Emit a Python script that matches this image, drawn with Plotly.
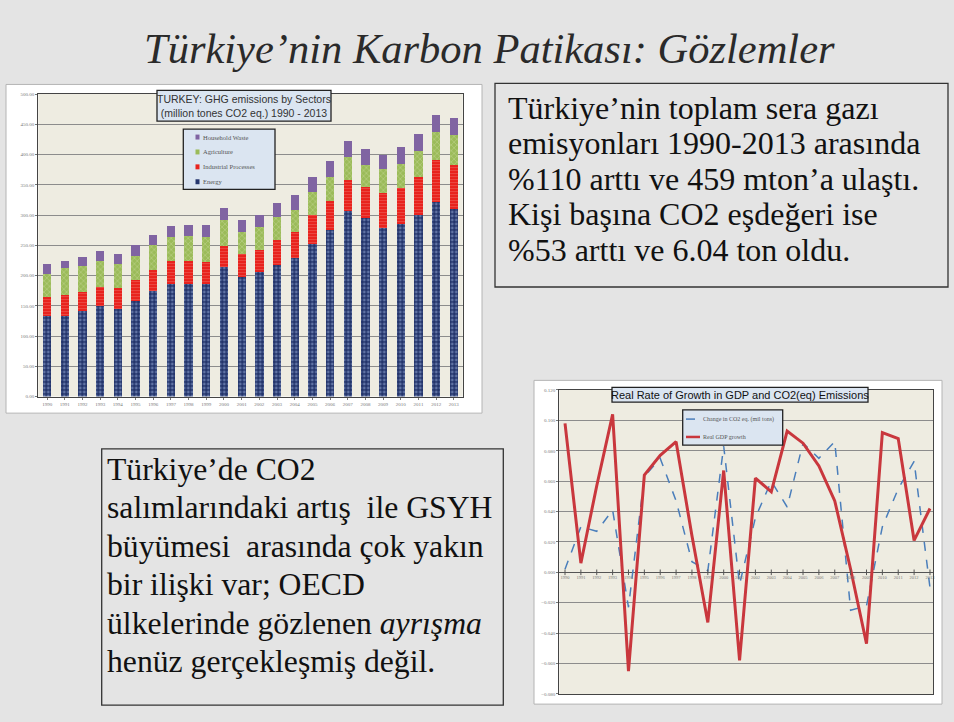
import plotly.graph_objs as go

W, H = 954, 722

# ---- data ----
years = ['1990', '1991', '1992', '1993', '1994', '1995', '1996', '1997',
         '1998', '1999', '2000', '2001', '2002', '2003', '2004', '2005',
         '2006', '2007', '2008', '2009', '2010', '2011', '2012', '2013']

# GHG emissions by sector, million tonnes CO2 eq.
energy = [132.5, 133.6, 140.7, 148.9, 144.5, 158.7, 175.1, 185.5, 185.5, 185.5,
          214.6, 198.1, 206.3, 217.3, 228.2, 252.9, 275.9, 306.5, 295.0, 279.1,
          284.6, 299.4, 321.3, 310.3]
industrial = [31.7, 34.4, 31.7, 31.7, 34.5, 34.0, 34.0, 38.9, 38.9, 37.3,
              34.4, 37.3, 36.7, 42.1, 43.8, 46.5, 48.1, 51.5, 50.9, 57.5,
              60.2, 62.9, 69.5, 72.8]
agriculture = [37.8, 43.8, 43.8, 43.8, 39.9, 39.4, 42.1, 39.4, 41.1, 41.0,
               42.2, 36.6, 37.2, 37.3, 36.7, 38.3, 38.3, 37.2, 37.2, 39.4,
               39.4, 43.8, 47.1, 49.3]
waste = [16.4, 12.1, 13.7, 16.4, 15.9, 18.0, 16.5, 18.1, 18.6, 20.3,
         20.2, 20.3, 19.2, 22.9, 25.2, 24.6, 27.4, 27.3, 26.9, 23.6,
         28.5, 27.4, 26.8, 27.4]

# growth rates
line_years = [1990, 1991, 1992, 1993, 1994, 1995, 1996, 1997, 1998, 1999, 2000, 2001,
              2002, 2003, 2004, 2005, 2006, 2007, 2008, 2009, 2010, 2011, 2012, 2013]
co2_change = [0.002, 0.030, 0.027, 0.041, -0.023, 0.063, 0.075, 0.047, 0.007, 0.001,
              0.083, -0.008, 0.036, 0.060, 0.043, 0.085, 0.075, 0.086, -0.025, -0.022,
              0.030, 0.055, 0.073, -0.010]
gdp_growth = [0.098, 0.006, 0.057, 0.104, -0.065, 0.064, 0.077, 0.086, 0.024, -0.033,
              0.067, -0.058, 0.062, 0.053, 0.093, 0.085, 0.070, 0.047, 0.002, -0.047,
              0.092, 0.088, 0.021, 0.042]

box1_lines = ['Türkiye’nin toplam sera gazı',
              'emisyonları 1990-2013 arasında',
              '%110 arttı ve 459 mton’a ulaştı.',
              'Kişi başına CO2 eşdeğeri ise',
              '%53 arttı ve 6.04 ton oldu.']
box2_lines = ['Türkiye’de CO2',
              'salımlarındaki artış  ile GSYH',
              'büyümesi  arasında çok yakın',
              'bir ilişki var; OECD',
              'ülkelerinde gözlenen <i>ayrışma</i>',
              'henüz gerçekleşmiş değil.']

sector_names = ['Household Waste', 'Agriculture', 'Industrial Processes', 'Energy']
sector_colors = ['#8064a2', '#9bbb59', '#e8221d', '#24366e']
line_names = ['Change in CO2 eq. (mil tons)', 'Real GDP growth']


def px(x):
    return x / W


def py(y):
    return 1 - y / H


serif = 'Times New Roman, Liberation Serif, Tinos, DejaVu Serif, serif'
sans = 'Arial, Liberation Sans, Arimo, sans-serif'
beige = '#eeece1'
grid = '#8c8c8c'

# plot areas in pixels (left, top, right, bottom)
left_area = (38.3, 92.7, 462.7, 397.3)
right_area = (559.3, 390.7, 933.3, 696.7)

bar_w = 0.47
traces = [
    go.Bar(x=years, y=energy, name='Energy', width=bar_w,
           marker=dict(color='#24366e', line=dict(width=0),
                       pattern=dict(shape='.', fgcolor='#9fb6df', bgcolor='#22336a',
                                    size=4, solidity=0.4)),
           xaxis='x', yaxis='y'),
    go.Bar(x=years, y=industrial, name='Industrial Processes', width=bar_w,
           marker=dict(color='#e8221d', line=dict(width=0),
                       pattern=dict(shape='-', fgcolor='#f2a09a', bgcolor='#e8221d',
                                    size=3, solidity=0.2)),
           xaxis='x', yaxis='y'),
    go.Bar(x=years, y=agriculture, name='Agriculture', width=bar_w,
           marker=dict(color='#9bbb59', line=dict(width=0),
                       pattern=dict(shape='x', fgcolor='#d6e5b4', bgcolor='#9bbb59',
                                    size=4, solidity=0.3)),
           xaxis='x', yaxis='y'),
    go.Bar(x=years, y=waste, name='Household Waste', width=bar_w,
           marker=dict(color='#8064a2', line=dict(width=0)),
           xaxis='x', yaxis='y'),
    go.Scatter(x=line_years, y=co2_change, name=line_names[0],
               mode='lines', line=dict(color='#4a7ebb', width=1.5, dash='dash'),
               xaxis='x2', yaxis='y2'),
    go.Scatter(x=line_years, y=gdp_growth, name=line_names[1],
               mode='lines', line=dict(color='#c9373d', width=3),
               xaxis='x2', yaxis='y2'),
    # year labels and ticks sitting on the zero line of the right chart
    go.Scatter(x=line_years, y=[0] * len(line_years), mode='markers',
               marker=dict(symbol='line-ns', size=4, line=dict(width=1, color='#555')),
               hoverinfo='skip', xaxis='x2', yaxis='y2'),
    go.Scatter(x=line_years, y=[-0.0035] * len(line_years), mode='text',
               text=line_years, textfont=dict(size=4.5, color='#777', family=serif),
               hoverinfo='skip', cliponaxis=False, xaxis='x2', yaxis='y2'),
]

shapes = []
# white chart frames, then beige plot areas
for x0, y0, x1, y1 in [(6, 83, 482, 414), (534, 381, 942, 707)]:
    shapes.append(dict(type='rect', xref='paper', yref='paper', layer='below',
                       x0=px(x0), x1=px(x1), y0=py(y1), y1=py(y0),
                       fillcolor='white', line=dict(color='#b4b4b4', width=1)))
for a in [left_area, right_area]:
    shapes.append(dict(type='rect', xref='paper', yref='paper', layer='below',
                       x0=px(a[0]), x1=px(a[2]), y0=py(a[3]), y1=py(a[1]),
                       fillcolor=beige, line=dict(width=0)))
# text boxes (transparent, only a border)
for x0, y0, x1, y1 in [(495, 82, 948, 287), (101.7, 450, 503.3, 708)]:
    shapes.append(dict(type='rect', xref='paper', yref='paper', layer='above',
                       x0=px(x0), x1=px(x1), y0=py(y1), y1=py(y0),
                       fillcolor='rgba(0,0,0,0)', line=dict(color='#333', width=1.3)))
# chart title boxes and legend boxes
for x0, y0, x1, y1 in [(157, 89, 331, 120), (612, 388, 868, 403),
                       (183.3, 128, 275, 188.7), (682.7, 410.7, 782.7, 446.3)]:
    shapes.append(dict(type='rect', xref='paper', yref='paper', layer='above',
                       x0=px(x0), x1=px(x1), y0=py(y1), y1=py(y0),
                       fillcolor='#dbe5f1', line=dict(color='#222', width=1.3)))

annotations = [
    dict(text='<i>Türkiye’nin Karbon Patikası: Gözlemler</i>',
         x=px(489), y=py(47), xref='paper', yref='paper', showarrow=False,
         xanchor='center', yanchor='middle',
         font=dict(family=serif, size=42.5, color='#2a2a2a')),
    dict(text='TURKEY: GHG emissions by Sectors<br>(million tones CO2 eq.) 1990 - 2013',
         x=px(244), y=py(104.5), xref='paper', yref='paper', showarrow=False,
         xanchor='center', yanchor='middle',
         font=dict(family=sans, size=10.5, color='#333')),
    dict(text='Real Rate of Growth in GDP and CO2(eq) Emissions',
         x=px(740), y=py(395.5), xref='paper', yref='paper', showarrow=False,
         xanchor='center', yanchor='middle',
         font=dict(family=sans, size=11, color='#111')),
]
for i, t in enumerate(box1_lines):
    annotations.append(dict(text=t, x=px(506), y=py(106.5 + 35.8 * i),
                            xref='paper', yref='paper', showarrow=False,
                            xanchor='left', yanchor='middle',
                            font=dict(family=serif, size=32, color='#111')))
for i, t in enumerate(box2_lines):
    annotations.append(dict(text=t, x=px(105), y=py(470.5 + 38.8 * i),
                            xref='paper', yref='paper', showarrow=False,
                            xanchor='left', yanchor='middle',
                            font=dict(family=serif, size=31.7, color='#111')))

# left legend: small swatches + labels
for i, (name, col) in enumerate(zip(sector_names, sector_colors)):
    yc = 136 + 15 * i
    shapes.append(dict(type='rect', xref='paper', yref='paper', layer='above',
                       x0=px(195.5), x1=px(199.5), y0=py(yc + 2.5), y1=py(yc - 2.5),
                       fillcolor=col, line=dict(width=0)))
    annotations.append(dict(text=name, x=px(200.5), y=py(yc), xref='paper',
                            yref='paper', showarrow=False, xanchor='left',
                            yanchor='middle',
                            font=dict(family=serif, size=6.5, color='#555')))

# right legend: line samples + labels
for i, (name, col, dash, lw) in enumerate(zip(line_names, ['#4a7ebb', '#c9373d'],
                                              ['dash', 'solid'], [1.5, 2.5])):
    yc = 420 + 18 * i
    shapes.append(dict(type='line', xref='paper', yref='paper', layer='above',
                       x0=px(686), x1=px(700), y0=py(yc), y1=py(yc),
                       line=dict(color=col, width=lw, dash=dash)))
    annotations.append(dict(text=name, x=px(701), y=py(yc), xref='paper',
                            yref='paper', showarrow=False, xanchor='left',
                            yanchor='middle',
                            font=dict(family=serif, size=6, color='#555')))

tickfont = dict(size=5, color='#777', family=serif)

layout = go.Layout(
    width=W, height=H, autosize=False,
    margin=dict(l=0, r=0, t=0, b=0, pad=0),
    paper_bgcolor='#e4e4e4',
    plot_bgcolor='rgba(0,0,0,0)',
    barmode='stack',
    showlegend=False,
    xaxis=dict(domain=[px(left_area[0]), px(left_area[2])], anchor='y',
               type='category', showgrid=False, showline=True, mirror=True,
               linecolor='#444', linewidth=1, ticks='outside', ticklen=2,
               tickcolor='#777', tickfont=tickfont),
    yaxis=dict(domain=[py(left_area[3]), py(left_area[1])], anchor='x',
               range=[0, 500], dtick=50, tickformat='.2f', showgrid=True,
               gridcolor=grid, gridwidth=1, showline=True, mirror=True,
               linecolor='#444', linewidth=1, zeroline=False, ticks='outside',
               ticklen=2, tickcolor='#777', tickfont=tickfont),
    xaxis2=dict(domain=[px(right_area[0]), px(right_area[2])], anchor='y2',
                range=[1989.64, 2013.21], showticklabels=False, showgrid=False,
                showline=True, mirror=True, linecolor='#444', linewidth=1,
                zeroline=False),
    yaxis2=dict(domain=[py(right_area[3]), py(right_area[1])], anchor='x2',
                range=[-0.08, 0.12], dtick=0.02, tickformat='.3f', showgrid=True,
                gridcolor=grid, gridwidth=1, showline=True, mirror=True,
                linecolor='#444', linewidth=1, zeroline=True,
                zerolinecolor='#555', zerolinewidth=1, ticks='outside', ticklen=2,
                tickcolor='#777', tickfont=tickfont),
    shapes=shapes,
    annotations=annotations,
)

fig = go.Figure(data=traces, layout=layout)
fig.write_html("out.html", config={'displayModeBar': False},
               post_script="document.body.style.margin='0';"
                           "document.body.style.background='#e4e4e4';")
